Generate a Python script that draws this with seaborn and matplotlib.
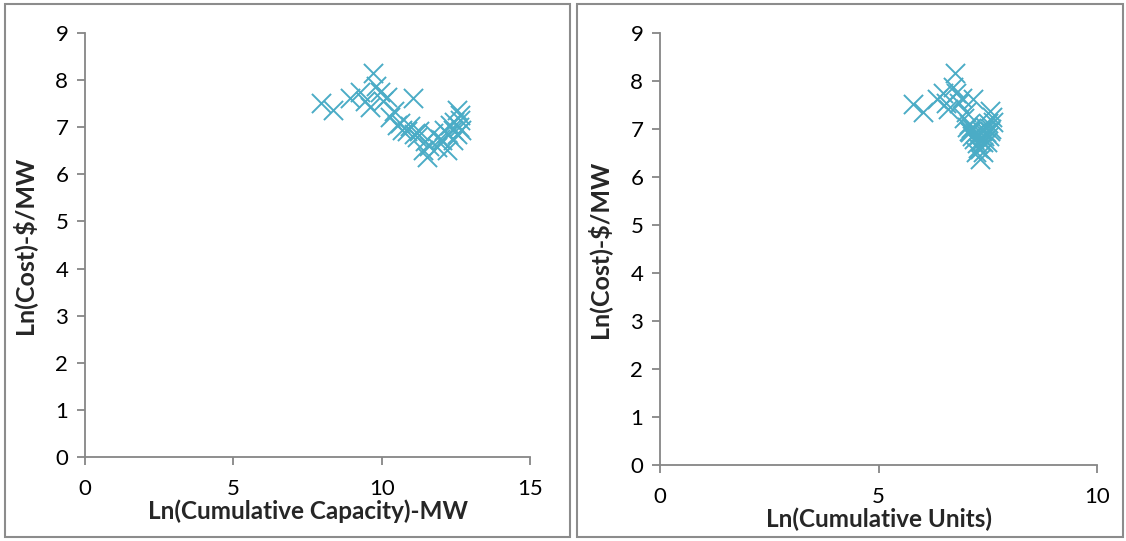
import numpy as np
import pandas as pd
import matplotlib
matplotlib.use("Agg")
import matplotlib.pyplot as plt
from matplotlib.patches import Rectangle
import seaborn as sns

# ln(cumulative capacity, MW), ln(cumulative units), ln(cost $/MW)
ln_capacity = [7.94, 8.35, 8.92, 9.26, 9.45, 9.60, 9.70, 9.80, 9.93, 10.05,
               10.17, 10.27, 10.40, 10.50, 10.61, 10.70, 10.84, 10.95, 11.04, 11.10,
               11.18, 11.25, 11.38, 11.45, 11.52, 11.60, 11.72, 11.85, 11.95, 12.05,
               12.10, 12.19, 12.25, 12.30, 12.39, 12.39, 12.45, 12.53, 12.55, 12.60,
               12.63, 12.65, 12.68]
ln_units = [5.79, 6.02, 6.35, 6.48, 6.55, 6.60, 6.75, 6.70, 6.78, 6.85,
            6.90, 6.95, 7.00, 7.03, 7.06, 7.08, 7.10, 7.12, 7.16, 7.14,
            7.18, 7.20, 7.24, 7.26, 7.32, 7.28, 7.30, 7.33, 7.35, 7.38,
            7.36, 7.40, 7.42, 7.44, 7.46, 7.48, 7.50, 7.55, 7.52, 7.58,
            7.62, 7.60, 7.56]
ln_cost = [7.52, 7.36, 7.62, 7.74, 7.55, 7.42, 8.16, 7.88, 7.75, 7.55,
           7.64, 7.22, 7.35, 7.05, 7.10, 6.95, 6.93, 7.02, 7.62, 6.85,
           6.80, 6.92, 6.52, 6.70, 6.37, 6.60, 6.88, 6.58, 6.75, 6.73,
           6.95, 6.52, 6.85, 7.05, 6.94, 6.73, 7.12, 7.37, 6.85, 7.00,
           7.15, 7.25, 6.95]

df = pd.DataFrame({"cap": ln_capacity, "units": ln_units, "cost": ln_cost})

sns.set_style("white")
plt.rcParams["font.family"] = ["Lato", "DejaVu Sans"]

marker_color = "#4BACC6"
axis_gray = "#868686"

fig = plt.figure(figsize=(11.26, 5.41), dpi=100)

# panel frames
fig.patches.append(Rectangle((5 / 1126, 4 / 541), 565 / 1126, 533 / 541,
                             transform=fig.transFigure, fill=False,
                             edgecolor="#8c8c8c", linewidth=1.5))
fig.patches.append(Rectangle((577 / 1126, 4 / 541), 546 / 1126, 533 / 541,
                             transform=fig.transFigure, fill=False,
                             edgecolor="#8c8c8c", linewidth=1.5))

ax1 = fig.add_axes([85 / 1126, 1 - 457 / 541, 445 / 1126, 424 / 541])
ax2 = fig.add_axes([660 / 1126, 1 - 465 / 541, 437 / 1126, 432 / 541])

sns.scatterplot(data=df, x="cap", y="cost", marker="x", s=190, color=marker_color,
                linewidth=1.4, ax=ax1)
sns.scatterplot(data=df, x="units", y="cost", marker="x", s=190, color=marker_color,
                linewidth=1.4, ax=ax2)

for ax, xmax, xstep, xlab in [(ax1, 15, 5, "Ln(Cumulative Capacity)-MW"),
                              (ax2, 10, 5, "Ln(Cumulative Units)")]:
    ax.set_xlim(0, xmax)
    ax.set_ylim(0, 9)
    ax.set_xticks(np.arange(0, xmax + 1, xstep))
    ax.set_yticks(np.arange(0, 10, 1))
    ax.set_xlabel(xlab, fontsize=17.5, fontweight="bold", labelpad=0)
    ax.set_ylabel("Ln(Cost)-$/MW", fontsize=18, fontweight="bold", labelpad=14)
    for side in ["top", "right"]:
        ax.spines[side].set_visible(False)
    for side in ["left", "bottom"]:
        ax.spines[side].set_color(axis_gray)
        ax.spines[side].set_linewidth(1.3)
    ax.tick_params(axis="both", direction="out", length=6, width=1.3,
                   bottom=True, left=True,
                   color=axis_gray, labelsize=16, labelcolor="black")
    ax.tick_params(axis="x", pad=10)
    ax.tick_params(axis="y", pad=6)
    ax.patch.set_alpha(0)

fig.savefig("out.png", dpi=100)
